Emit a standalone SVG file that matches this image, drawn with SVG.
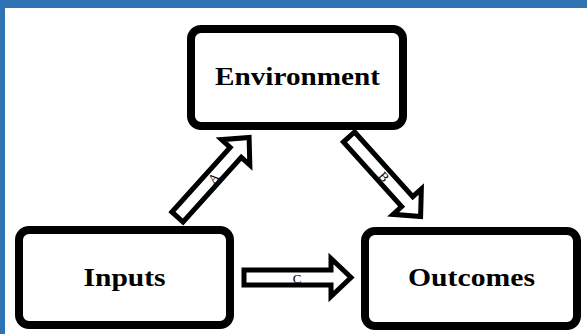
<svg xmlns="http://www.w3.org/2000/svg" width="587" height="334" viewBox="0 0 587 334">
  <style>
    .box { fill: #ffffff; stroke: #000000; stroke-width: 8; }
    .title { font-family: "Liberation Serif", "Times New Roman", serif; font-weight: bold; font-size: 26px; fill: #000000; text-anchor: middle; }
    .arrow { fill: #ffffff; stroke: #000000; stroke-width: 5; stroke-linejoin: miter; stroke-miterlimit: 10; }
    .lbl { font-family: "Liberation Serif", "Times New Roman", serif; font-size: 13px; fill: #000000; text-anchor: middle; }
  </style>
  <defs>
    <polygon id="blockArrow" points="0,-7.5 87,-7.5 87,-19 107,0 87,19 87,7.5 0,7.5"/>
  </defs>
  <rect x="0" y="0" width="587" height="334" fill="#ffffff"/>
  <rect x="0" y="0" width="587" height="8" fill="#2E74B5"/>
  <rect x="0" y="0" width="5" height="334" fill="#2E74B5"/>

  <g id="connectors">
    <g id="arrow-A" transform="translate(177.5,217) rotate(-48)">
      <use href="#blockArrow" class="arrow"/>
      <text class="lbl" x="53" y="5">A</text>
    </g>
    <g id="arrow-B" transform="translate(349,137) rotate(48)">
      <use href="#blockArrow" class="arrow"/>
      <text class="lbl" x="53" y="5">B</text>
    </g>
    <g id="arrow-C" transform="translate(244,277.5)">
      <use href="#blockArrow" class="arrow"/>
      <text class="lbl" x="53" y="5.5">C</text>
    </g>
  </g>

  <g id="node-environment">
    <rect class="box" x="191" y="29" width="212" height="97" rx="10" ry="10"/>
    <text class="title" x="297.5" y="85" textLength="165" lengthAdjust="spacingAndGlyphs">Environment</text>
  </g>
  <g id="node-inputs">
    <rect class="box" x="19" y="230" width="211" height="95" rx="10" ry="10"/>
    <text class="title" x="124.5" y="286" textLength="82" lengthAdjust="spacingAndGlyphs">Inputs</text>
  </g>
  <g id="node-outcomes">
    <rect class="box" x="365" y="231" width="212" height="95" rx="10" ry="10"/>
    <text class="title" x="471.5" y="286" textLength="127" lengthAdjust="spacingAndGlyphs">Outcomes</text>
  </g>
</svg>
